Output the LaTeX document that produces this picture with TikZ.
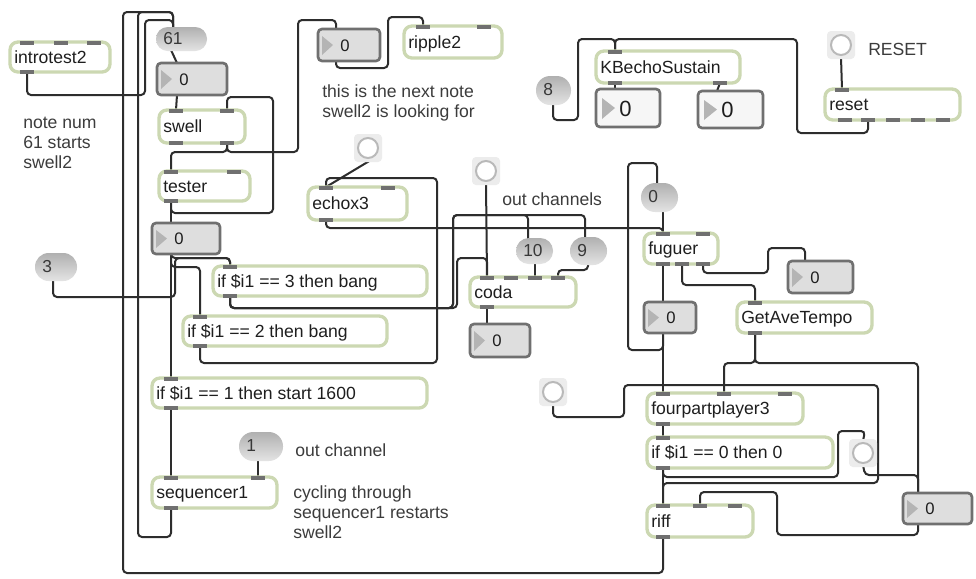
\documentclass[tikz,border=0pt]{standalone}
\usepackage{fontspec}
\setmainfont{Liberation Sans}
\usetikzlibrary{backgrounds,calc}
\definecolor{objborder}{RGB}{204,216,178}
\definecolor{tabc}{RGB}{112,112,112}
\definecolor{cord}{RGB}{45,45,45}
\definecolor{nbfill}{RGB}{222,222,222}
\definecolor{nbwhite}{RGB}{246,246,246}
\definecolor{nbborder}{RGB}{112,112,112}
\definecolor{tri}{RGB}{180,180,180}
\definecolor{msgtop}{RGB}{176,176,176}
\definecolor{msgbot}{RGB}{228,228,228}
\definecolor{btnbg}{RGB}{236,236,236}
\definecolor{btnringc}{RGB}{185,185,185}
\definecolor{txtc}{RGB}{30,30,30}
\definecolor{cmtc}{RGB}{60,60,60}
\tikzset{
 objbox/.style={draw=objborder, line width=2.5pt, fill=white, rounded corners=6pt, inner sep=0pt, outer sep=0pt},
 txt/.style={font=\fontsize{13.2}{16}\selectfont, text=txtc, inner sep=0pt},
 numtxt/.style={font=\fontsize{12.5}{15}\selectfont, text=txtc, inner sep=0pt},
 bignumtxt/.style={font=\fontsize{16.5}{19}\selectfont, text=txtc, inner sep=0pt},
 msgtxt/.style={font=\fontsize{13}{16}\selectfont, text=black!78, inner sep=0pt},
 cmt/.style={font=\fontsize{13.2}{16}\selectfont, text=cmtc, inner sep=0pt},
 cordline/.style={draw=cord, line width=1.5pt, rounded corners=3pt},
 nbox/.style={draw=nbborder, line width=2pt, fill=nbfill, rounded corners=3pt, inner sep=0pt, outer sep=0pt},
 msgbox/.style={top color=msgtop, bottom color=msgbot, draw=none, inner sep=0pt, outer sep=0pt},
 btnsq/.style={minimum size=21pt, fill=btnbg, rounded corners=3pt, inner sep=0pt, outer sep=0pt, draw=none},
 btnring/.style={draw=btnringc, line width=1.5pt, fill=white}
}
\newcommand\obj[6]{%
 \pgfmathsetmacro\ow{(#4-#2)*0.75}\pgfmathsetmacro\oh{(#5-#3)*0.75}%
 \node[objbox,minimum width=\ow pt,minimum height=\oh pt,anchor=north west] (#1) at (#2,#3) {};%
 \node[txt,anchor=base west] (#1t) at (#2+4,{(#3+#5)/2+6}) {#6};}
\newcommand\inl[3]{\fill[tabc] (#2-7,#3-1.5) rectangle (#2+7,#3+2.5); \coordinate (#1) at (#2,#3);}
\newcommand\outl[3]{\fill[tabc] (#2-7,#3-2.5) rectangle (#2+7,#3+1.5); \coordinate (#1) at (#2,#3);}
\newcommand\numbox[5]{%
 \pgfmathsetmacro\ow{(#4-#2)*0.75}\pgfmathsetmacro\oh{(#5-#3)*0.75}%
 \node[nbox,minimum width=\ow pt,minimum height=\oh pt,anchor=north west] (#1) at (#2,#3) {};%
 \fill[tri] (#2+4,#3+7) -- (#2+4,#5-6) -- (#2+15,{(#3+#5)/2}) -- cycle;%
 \node[numtxt,anchor=base west] (#1t) at (#2+22,{(#3+#5)/2+6}) {0};}
\newcommand\bignum[5]{%
 \pgfmathsetmacro\ow{(#4-#2)*0.75}\pgfmathsetmacro\oh{(#5-#3)*0.75}%
 \node[nbox,fill=nbwhite,minimum width=\ow pt,minimum height=\oh pt,anchor=north west] (#1) at (#2,#3) {};%
 \fill[tri] (#2+6,#3+9) -- (#2+6,#5-8) -- (#2+19,{(#3+#5)/2}) -- cycle;%
 \node[bignumtxt,anchor=base west] (#1t) at (#2+23,{(#3+#5)/2+8}) {0};}
\newcommand\msg[6]{%
 \pgfmathsetmacro\ow{(#4-#2)*0.75}\pgfmathsetmacro\oh{(#5-#3)*0.75}\pgfmathsetmacro\rc{(#5-#3)*0.75/2-0.2}%
 \node[msgbox,rounded corners=\rc pt,minimum width=\ow pt,minimum height=\oh pt,anchor=north west] (#1) at (#2,#3) {};%
 \node[msgtxt,anchor=base west] (#1t) at (#2+7,{(#3+#5)/2+5}) {#6};}
\newcommand\btn[3]{%
 \node[btnsq] (#1) at (#2,#3) {};%
 \draw[btnring] (#1.center) circle[radius=7.5pt];%
 \coordinate (#1-i) at (#2,#3-12);%
 \coordinate (#1-o) at (#2,#3+12);}
\begin{document}
\begin{tikzpicture}[x=0.75pt,y=-0.75pt]
\useasboundingbox (0,0) rectangle (976,579);
% ---------- left column ----------
\obj{intro}{10}{42}{110}{72}{introtest2}
\inl{intro-i1}{27}{42}\inl{intro-i2}{61}{42}\inl{intro-i3}{94}{42}\outl{intro-o1}{27}{72}
\msg{m61}{156}{27}{207}{51}{61}
\coordinate (m61-i) at (173,28); \coordinate (m61-o) at (171,50);
\numbox{n1}{157}{63}{227}{95}
\coordinate (n1-i) at (177,63); \coordinate (n1-o) at (177,95);
\obj{swell}{159}{110}{245}{143}{swell}
\inl{swell-i1}{176}{110}\inl{swell-i2}{227}{110}\outl{swell-o1}{176}{143}\outl{swell-o2}{227}{143}
\obj{tester}{159}{171}{250}{201}{tester}
\inl{tester-i1}{171}{171}\inl{tester-i2}{234}{171}\outl{tester-o1}{171}{201}
\numbox{n3}{152}{223}{220}{254}
\coordinate (n3-i) at (171,223); \coordinate (n3-o) at (171,254);
\msg{m3}{35}{253}{77}{281}{3}
\coordinate (m3-o) at (53,281);
\obj{if3}{213}{266}{427}{296}{if \$i1 == 3 then bang}
\inl{if3-i1}{230}{266}\outl{if3-o1}{230}{296}
\obj{if2}{183}{316}{387}{346}{if \$i1 == 2 then bang}
\inl{if2-i1}{200}{316}\outl{if2-o1}{200}{346}
\obj{if1}{152}{378}{427}{408}{if \$i1 == 1 then start 1600}
\inl{if1-i1}{171}{378}\outl{if1-o1}{171}{408}
\msg{m1}{239}{432}{283}{461}{1}
\coordinate (m1-o) at (258,461);
\obj{seq}{152}{477}{277}{508}{sequencer1}
\inl{seq-i1}{171}{477}\inl{seq-i2}{258}{477}\outl{seq-o1}{171}{508}
% comments
\node[cmt,anchor=base west] (c1a) at (23,128) {note num};
\node[cmt,anchor=base west] (c1b) at (23,148) {61 starts};
\node[cmt,anchor=base west] (c1c) at (23,168) {swell2};
\node[cmt,anchor=base west] (c2a) at (322,97) {this is the next note};
\node[cmt,anchor=base west] (c2b) at (322,117) {swell2 is looking for};
\node[cmt,anchor=base west] (c3) at (868,55) {RESET};
\node[cmt,anchor=base west] (c4) at (502,205) {out channels};
\node[cmt,anchor=base west] (c5) at (295,456) {out channel};
\node[cmt,anchor=base west] (c6a) at (293,498) {cycling through};
\node[cmt,anchor=base west] (c6b) at (293,518) {sequencer1 restarts};
\node[cmt,anchor=base west] (c6c) at (293,538) {swell2};
% ---------- top middle ----------
\numbox{n2}{318}{29}{380}{61}
\coordinate (n2-i) at (336,29); \coordinate (n2-o) at (336,61);
\obj{rip}{404}{26}{502}{58}{ripple2}
\inl{rip-i1}{423}{26}\inl{rip-i2}{484}{26}
\btn{btnE}{368}{148}
\obj{echo}{308}{187}{407}{220}{echox3}
\inl{echo-i1}{326}{187}\inl{echo-i2}{388}{187}\outl{echo-o1}{326}{220}
\btn{btnC}{486}{171}
\msg{m10}{516}{238}{553}{264}{10}
\coordinate (m10-i) at (528,239); \coordinate (m10-o) at (535,263);
\msg{m9}{570}{237}{607}{265}{9}
\coordinate (m9-i) at (585,237); \coordinate (m9-o) at (588,265);
\obj{coda}{470}{277}{576}{307}{coda}
\inl{coda-i1}{487}{277}\inl{coda-i2}{511}{277}\inl{coda-i3}{535}{277}\inl{coda-i4}{558}{277}\outl{coda-o1}{487}{307}
\numbox{n6}{470}{324}{530}{357}
\coordinate (n6-i) at (487,324);
% ---------- top right ----------
\msg{m8}{536}{76}{571}{105}{8}
\coordinate (m8-o) at (553,105);
\obj{kb}{596}{51}{740}{83}{KBechoSustain}
\inl{kb-i1}{615}{51}\outl{kb-o1}{615}{83}\outl{kb-o2}{720}{83}
\bignum{n4}{596}{89}{660}{127}
\coordinate (n4-i) at (615,89);
\bignum{n5}{698}{91}{763}{128}
\coordinate (n5-i) at (717,91);
\btn{btnR2}{841}{45}
\obj{reset}{825}{89}{960}{120}{reset}
\inl{reset-i1}{842}{89}
\outl{reset-o1}{845}{120}\outl{reset-o2}{868}{120}\outl{reset-o3}{893}{120}\outl{reset-o4}{918}{120}\outl{reset-o5}{943}{120}
% ---------- right column ----------
\msg{m0}{641}{183}{678}{212}{0}
\coordinate (m0-i) at (657,183); \coordinate (m0-o) at (663,212);
\obj{fug}{644}{233}{718}{264}{fuguer}
\inl{fug-i1}{663}{233}\inl{fug-i2}{703}{233}\outl{fug-o1}{663}{264}\outl{fug-o2}{682}{264}\outl{fug-o3}{703}{264}
\numbox{n7}{788}{261}{853}{293}
\coordinate (n7-i) at (805,261);
\numbox{n8}{644}{302}{696}{333}
\coordinate (n8-i) at (663,302); \coordinate (n8-o) at (663,333);
\obj{gat}{737}{302}{872}{333}{GetAveTempo}
\inl{gat-i1}{755}{302}\outl{gat-o1}{755}{333}
\btn{btnL}{553}{392}
\obj{fpp}{647}{393}{803}{424}{fourpartplayer3}
\inl{fpp-i1}{663}{393}\inl{fpp-i2}{724}{393}\inl{fpp-i3}{785}{393}\outl{fpp-o1}{663}{424}
\obj{if0}{647}{437}{833}{468}{if \$i1 == 0 then 0}
\inl{if0-i1}{663}{437}\outl{if0-o1}{663}{468}
\btn{btnR}{863}{453}
\obj{riff}{647}{505}{753}{537}{riff}
\inl{riff-i1}{663}{505}\inl{riff-i2}{700}{505}\inl{riff-i3}{735}{505}\outl{riff-o1}{663}{537}
\numbox{n9}{903}{493}{972}{524}
\coordinate (n9-i) at (918,493); \coordinate (n9-o) at (918,524);
% ---------- patch cords ----------
\begin{pgfonlayer}{background}
\fill[white] (0,0) rectangle (976,579);
\draw[cordline] (riff-o1) -- (663,573) -- (123,573) -- (123,12) -- (173,12) -- (m61-i);
\draw[cordline] (seq-o1) -- (171,537) -- (138,537) -- (138,12) -- (173,12) -- (m61-i);
\draw[cordline] (intro-o1) -- (27,95) -- (145,95) -- (145,20) -- (173,20) -- (m61-i);
\draw[cordline] (m61-o) -- (n1-i);
\draw[cordline] (n1-o) -- (swell-i1);
\draw[cordline] (swell-o2) -- (227,152) -- (171,152) -- (tester-i1);
\draw[cordline] (swell-o2) -- (227,152) -- (298,152) -- (298,20) -- (336,20) -- (n2-i);
\draw[cordline] (tester-o1) -- (171,213) -- (273,213) -- (273,97) -- (227,97) -- (swell-i2);
\draw[cordline] (tester-o1) -- (n3-i);
\draw[cordline] (n3-o) -- (171,258) -- (230,258) -- (if3-i1);
\draw[cordline] (n3-o) -- (171,267) -- (200,267) -- (if2-i1);
\draw[cordline] (n3-o) -- (if1-i1);
\draw[cordline] (m3-o) -- (53,297) -- (175,297) -- (175,258) -- (230,258) -- (if3-i1);
\draw[cordline] (if3-o1) -- (230,308) -- (453,308) -- (453,215) -- (528,215) -- (m10-i);
\draw[cordline] (if3-o1) -- (230,308) -- (453,308) -- (453,215) -- (585,215) -- (m9-i);
\draw[cordline] (if3-o1) -- (230,308) -- (457,308) -- (457,258) -- (487,258) -- (coda-i1);
\draw[cordline] (if2-o1) -- (200,363) -- (437,363) -- (437,178) -- (326,178) -- (echo-i1);
\draw[cordline] ($(btnE-o)+(3,0)$) -- (echo-i1);
\draw[cordline] (echo-o1) -- (326,228) -- (663,228) -- (fug-i1);
\draw[cordline] (m0-o) -- (fug-i1);
\draw[cordline] (m10-o) -- (coda-i3);
\draw[cordline] (m9-o) -- (588,270) -- (558,270) -- (coda-i4);
\draw[cordline] (btnC-o) -- (coda-i1);
\draw[cordline] (coda-o1) -- (n6-i);
\draw[cordline] (fug-o1) -- (n8-i);
\draw[cordline] (n8-o) -- (fpp-i1);
\draw[cordline] (n8-o) -- (663,350) -- (628,350) -- (628,163) -- (657,163) -- (m0-i);
\draw[cordline] (fug-o2) -- (682,285) -- (755,285) -- (gat-i1);
\draw[cordline] (fug-o3) -- (703,273) -- (768,273) -- (768,248) -- (805,248) -- (n7-i);
\draw[cordline] (gat-o1) -- (755,363) -- (724,363) -- (fpp-i2);
\draw[cordline] (gat-o1) -- (755,363) -- (918,363) -- (n9-i);
\draw[cordline] (btnL-o) -- (553,417) -- (624,417) -- (624,385) -- (878,385) -- (878,483) -- (663,483) -- (riff-i1);
\draw[cordline] (fpp-o1) -- (if0-i1);
\draw[cordline] (if0-o1) -- (riff-i1);
\draw[cordline] (if0-o1) -- (663,477) -- (838,477) -- (838,431) -- (865,431) -- (btnR-i);
\draw[cordline] (btnR-o) -- (865,475) -- (918,475) -- (n9-i);
\draw[cordline] (n9-o) -- (918,535) -- (777,535) -- (777,492) -- (700,492) -- (riff-i2);
\draw[cordline] (m8-o) -- (553,120) -- (578,120) -- (578,39) -- (615,39) -- (kb-i1);
\draw[cordline] (reset-o2) -- (868,133) -- (797,133) -- (797,39) -- (615,39) -- (kb-i1);
\draw[cordline] (kb-o1) -- (n4-i);
\draw[cordline] (kb-o2) -- (n5-i);
\draw[cordline] (btnR2-o) -- (reset-i1);
\draw[cordline] (n2-o) -- (336,68) -- (388,68) -- (388,17) -- (423,17) -- (rip-i1);
\draw[cordline] (m1-o) -- (seq-i2);
\draw[cordline] (if1-o1) -- (seq-i1);
\end{pgfonlayer}
\end{tikzpicture}
\end{document}
